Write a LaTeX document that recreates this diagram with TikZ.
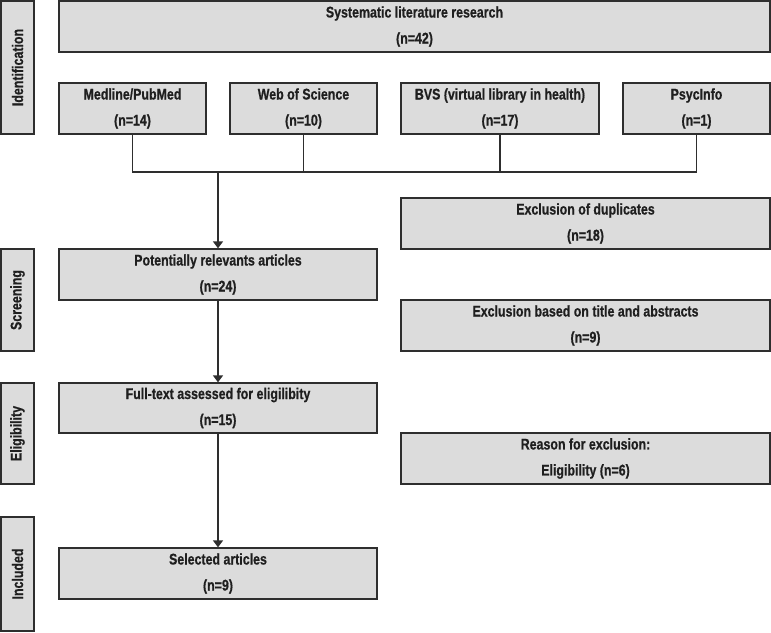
\documentclass[tikz,border=0pt]{standalone}
\usepackage{fontspec}
\setmainfont{Liberation Sans}[FakeStretch=0.8, BoldFeatures={FakeBold=0.6}]
\usetikzlibrary{arrows.meta}
\definecolor{boxfill}{HTML}{DCDCDC}
\definecolor{boxline}{HTML}{2E2E2E}
\tikzset{
  box/.style={draw=boxline, fill=boxfill, line width=1.3pt, inner sep=0pt,
    align=center, font=\fontsize{15.5}{26}\selectfont\bfseries, text=black!88},
  conn/.style={draw=boxline, line width=1.3pt},
  arr/.style={conn, -{Triangle[width=10pt,length=7pt]}}
}
\begin{document}
\begin{tikzpicture}[x=1pt,y=-1pt]
\useasboundingbox (0,0) rectangle (771,632);
% side labels (rotated: minimum width is along text, minimum height across)
\node[box, rotate=90, minimum width=133pt, minimum height=33pt] (idlab) at (17.5,67.5) {Identification};
\node[box, rotate=90, minimum width=102pt, minimum height=33pt] (scrlab) at (17.5,300) {Screening};
\node[box, rotate=90, minimum width=101pt, minimum height=33pt] (elilab) at (17.5,433.5) {Eligibility};
\node[box, rotate=90, minimum width=114pt, minimum height=33pt] (inclab) at (17.5,574) {Included};
% main boxes
\node[box, minimum width=711pt, minimum height=51pt] (sys) at (414.5,26.5) {Systematic literature research\\(n=42)};
\node[box, minimum width=147pt, minimum height=51pt] (med) at (132.5,108.5) {Medline/PubMed\\(n=14)};
\node[box, minimum width=147pt, minimum height=51pt] (wos) at (303.5,108.5) {Web of Science\\(n=10)};
\node[box, minimum width=198pt, minimum height=51pt] (bvs) at (500,108.5) {BVS (virtual library in health)\\(n=17)};
\node[box, minimum width=147pt, minimum height=51pt] (psy) at (696.5,108.5) {PsycInfo\\(n=1)};
\node[box, minimum width=369pt, minimum height=51pt] (dup) at (585.5,223.5) {Exclusion of duplicates\\(n=18)};
\node[box, minimum width=318pt, minimum height=51pt] (pot) at (218,274.5) {Potentially relevants articles\\(n=24)};
\node[box, minimum width=369pt, minimum height=51pt] (exc) at (585.5,325.5) {Exclusion based on title and abstracts\\(n=9)};
\node[box, minimum width=318pt, minimum height=50pt] (full) at (218,408) {Full-text assessed for eligilibity\\(n=15)};
\node[box, minimum width=369pt, minimum height=51pt] (rea) at (585.5,458.5) {Reason for exclusion:\\Eligibility (n=6)};
\node[box, minimum width=318pt, minimum height=51pt] (sel) at (218,573.5) {Selected articles\\(n=9)};
% connectors
\coordinate (bus) at (0,172);
\draw[conn] (med.south) -- (med.south |- bus) -- (psy.south |- bus) -- (psy.south);
\draw[conn] (wos.south) -- (wos.south |- bus);
\draw[conn] (bvs.south) -- (bvs.south |- bus);
\draw[arr] (pot.north |- bus) -- (pot.north);
\draw[arr] (pot.south) -- (full.north);
\draw[arr] (full.south) -- (sel.north);
\end{tikzpicture}
\end{document}
